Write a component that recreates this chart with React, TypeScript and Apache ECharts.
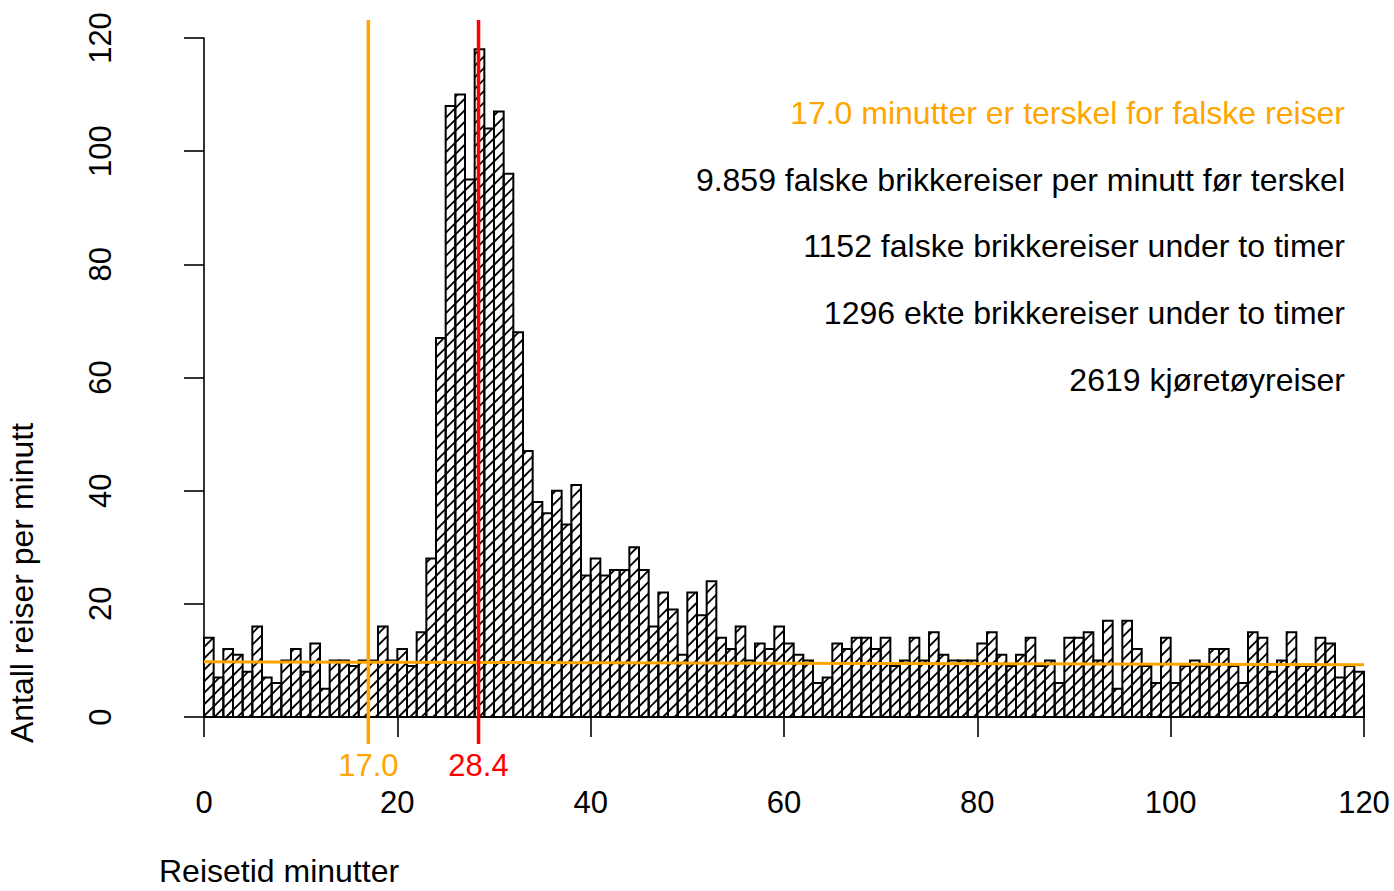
import React, { useEffect, useRef } from "react";
import * as echarts from "echarts";

// Histogram counts per 1-minute bin, 0..120 minutes
const counts: number[] = [
  14, 7, 12, 11, 8, 16, 7, 6, 10, 12, 8, 13, 5, 10, 10, 9, 10, 10, 16, 10,
  12, 9, 15, 28, 67, 108, 110, 95, 118, 104, 107, 96, 68, 47, 38, 36, 40, 34, 41, 25,
  28, 25, 26, 26, 30, 26, 16, 22, 19, 11, 22, 18, 24, 14, 12, 16, 10, 13, 12, 16,
  13, 11, 10, 6, 7, 13, 12, 14, 14, 12, 14, 9, 10, 14, 10, 15, 11, 10, 10, 10,
  13, 15, 11, 9, 11, 14, 9, 10, 6, 14, 14, 15, 10, 17, 5, 17, 12, 9, 6, 14,
  6, 9, 10, 9, 12, 12, 9, 6, 15, 14, 8, 10, 15, 9, 9, 14, 13, 7, 9, 8,
];
const binWidth = 1;

// Baseline of false trips (fitted level line) at x = 0 and x = 120
const baselineX: number[] = [0, 120];
const baselineY: number[] = [9.75, 9.24];

const thresholdValue = 17.0;
const peakValue = 28.4;

const xTicks = { min: 0, max: 120, interval: 20 };
const yTicks = { min: 0, max: 120, interval: 20 };

const annotationLines: string[] = [
  "17.0 minutter er terskel for falske reiser",
  "9.859 falske brikkereiser per minutt før terskel",
  "1152 falske brikkereiser under to timer",
  "1296 ekte brikkereiser under to timer",
  "2619 kjøretøyreiser",
];
const annotationColors: string[] = ["#FFA500", "#000000", "#000000", "#000000", "#000000"];

const xTitle = "Reisetid minutter";
const yTitle = "Antall reiser per minutt";

const FONT = '"Liberation Sans", Arial, Helvetica, sans-serif';
const ORANGE = "#FFA500";
const RED = "#FF0000";

export default function App() {
  const ref = useRef<HTMLDivElement>(null);

  useEffect(() => {
    document.body.style.margin = "0";
    if (!ref.current) return;
    const chart = echarts.init(ref.current, undefined, { renderer: "svg" });

    const histData = counts.map((v, i) => [i * binWidth, (i + 1) * binWidth, v]);

    const vLineLabel = (text: string, color: string) => ({
      show: true,
      position: "bottom",
      distance: 5,
      formatter: text,
      color,
      opacity: 1,
      fontSize: 31,
      fontFamily: FONT,
    });

    const option: any = {
      animation: false,
      backgroundColor: "#ffffff",
      textStyle: { fontFamily: FONT },
      grid: [
        { left: 204, right: 30, top: 38, bottom: 174 },
        { left: 204, right: 30, top: 20, bottom: 147 },
      ],
      xAxis: [
        {
          type: "value",
          gridIndex: 0,
          min: xTicks.min,
          max: xTicks.max,
          interval: xTicks.interval,
          position: "bottom",
          offset: 27,
          axisLine: { show: true, lineStyle: { color: "#000", width: 1.6 } },
          axisTick: { show: true, length: 20, lineStyle: { color: "#000", width: 1.6 } },
          axisLabel: { show: true, fontSize: 31, color: "#000", margin: 43, fontFamily: FONT },
          splitLine: { show: false },
        },
        {
          type: "value",
          gridIndex: 1,
          min: xTicks.min,
          max: xTicks.max,
          show: false,
        },
      ],
      yAxis: [
        {
          type: "value",
          gridIndex: 0,
          min: yTicks.min,
          max: yTicks.max,
          interval: yTicks.interval,
          position: "left",
          offset: 46,
          axisLine: { show: true, lineStyle: { color: "#000", width: 1.6 } },
          axisTick: { show: true, length: 20, lineStyle: { color: "#000", width: 1.6 } },
          axisLabel: { show: true, fontSize: 31, color: "#000", rotate: 90, margin: 42, fontFamily: FONT },
          splitLine: { show: false },
        },
        {
          type: "value",
          gridIndex: 1,
          min: 0,
          max: 1,
          show: false,
        },
      ],
      series: [
        {
          type: "custom",
          xAxisIndex: 0,
          yAxisIndex: 0,
          data: histData,
          encode: { x: [0, 1], y: 2 },
          z: 2,
          renderItem: (params: any, api: any) => {
            const start = api.value(0);
            const end = api.value(1);
            const v = api.value(2);
            const p0 = api.coord([start, v]);
            const p1 = api.coord([end, 0]);
            const x0 = p0[0];
            const yTop = p0[1];
            const x1 = p1[0];
            const yBot = p1[1];
            const children: any[] = [];
            const d = 11.5;
            const cMin = x0 + yTop;
            const cMax = x1 + yBot;
            for (let c = Math.ceil(cMin / d) * d; c <= cMax; c += d) {
              const xa = Math.max(x0, c - yBot);
              const xb = Math.min(x1, c - yTop);
              if (xb > xa + 0.2) {
                children.push({
                  type: "line",
                  shape: { x1: xa, y1: c - xa, x2: xb, y2: c - xb },
                  style: { stroke: "#000", lineWidth: 1.8 },
                });
              }
            }
            children.push({
              type: "rect",
              shape: { x: x0, y: yTop, width: x1 - x0, height: yBot - yTop },
              style: { fill: "none", stroke: "#000", lineWidth: 2 },
            });
            return { type: "group", children };
          },
        },
        {
          type: "line",
          xAxisIndex: 0,
          yAxisIndex: 0,
          data: baselineX.map((x, i) => [x, baselineY[i]]),
          symbol: "none",
          lineStyle: { color: ORANGE, width: 3 },
          z: 5,
        },
        {
          type: "line",
          xAxisIndex: 1,
          yAxisIndex: 1,
          symbol: "none",
          lineStyle: { color: ORANGE, width: 3.5 },
          z: 6,
          data: [
            [thresholdValue, 0],
            [thresholdValue, 1],
          ],
        },
        {
          type: "line",
          xAxisIndex: 1,
          yAxisIndex: 1,
          symbol: "none",
          lineStyle: { color: RED, width: 3.5 },
          z: 6,
          data: [
            [peakValue, 0],
            [peakValue, 1],
          ],
        },
        {
          type: "scatter",
          xAxisIndex: 1,
          yAxisIndex: 1,
          symbolSize: 1,
          itemStyle: { color: "rgba(0,0,0,0)", opacity: 1 },
          emphasis: { disabled: true },
          silent: true,
          z: 7,
          data: [
            { value: [thresholdValue, 0], label: vLineLabel(thresholdValue.toFixed(1), ORANGE) },
            { value: [peakValue, 0], label: vLineLabel(peakValue.toFixed(1), RED) },
          ],
        },
      ],
      graphic: [
        ...annotationLines.map((t, i) => ({
          type: "text",
          x: 1345,
          y: 113 + i * 66.7,
          style: {
            text: t,
            fill: annotationColors[i],
            font: `32px ${FONT}`,
            textAlign: "right",
            textVerticalAlign: "middle",
          },
        })),
        {
          type: "text",
          x: 159,
          y: 871,
          style: {
            text: xTitle,
            fill: "#000",
            font: `32px ${FONT}`,
            textAlign: "left",
            textVerticalAlign: "middle",
          },
        },
        {
          type: "text",
          x: 22,
          y: 583,
          rotation: Math.PI / 2,
          style: {
            text: yTitle,
            fill: "#000",
            font: `32px ${FONT}`,
            textAlign: "center",
            textVerticalAlign: "middle",
          },
        },
      ],
    };

    chart.setOption(option);
    return () => {
      chart.dispose();
    };
  }, []);

  return <div ref={ref} style={{ width: 1394, height: 891 }} />;
}
